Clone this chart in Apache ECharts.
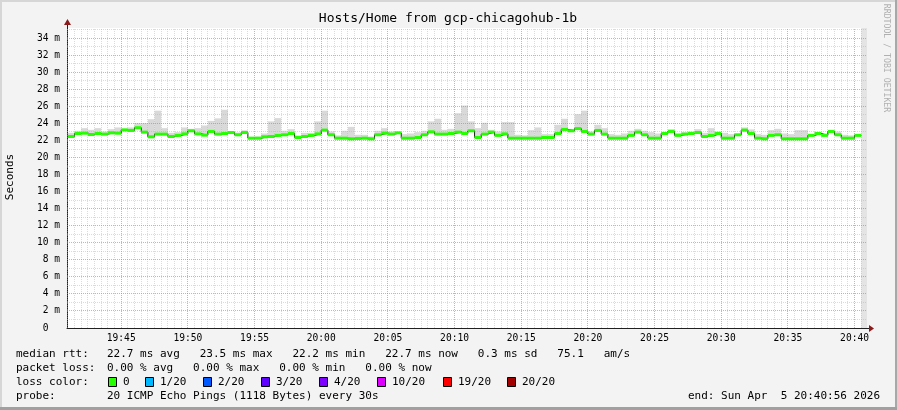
<!DOCTYPE html>
<html>
<head>
<meta charset="utf-8">
<script src="https://cdn.jsdelivr.net/npm/echarts@6/dist/echarts.min.js"></script>
<style>
html,body{margin:0;padding:0;background:#f3f3f3;}
#c{width:897px;height:410px;}
</style>
</head>
<body>
<div id="c"></div>
<script>
// ---- time frame (seconds since midnight) ----
const START = 70856;        // 19:40:56
const END = 74456;          // 20:40:56
const FIRST_STEP = 70860;   // 19:41:00, first 30 s step
const STEP = 30;
const UNKNOWN_FROM = 74430; // 20:40:30, last step without data
const Y_MAX = 35.2;         // ms

// ---- median RTT per 30 s step (ms) ----
const median = [
  22.47,22.82,22.86,22.70,22.82,22.75,22.90,22.86,23.25,23.18,
  23.50,22.98,22.43,22.75,22.75,22.47,22.60,22.78,23.14,22.78,
  22.63,23.06,22.75,22.82,22.94,22.67,22.94,22.27,22.27,22.43,
  22.47,22.60,22.67,22.82,22.35,22.47,22.60,22.78,23.22,22.67,
  22.27,22.27,22.20,22.24,22.27,22.20,22.67,22.86,22.75,22.90,
  22.27,22.27,22.35,22.67,23.02,22.75,22.75,22.82,22.98,22.82,
  23.14,22.35,22.75,22.98,22.60,22.78,22.27,22.27,22.27,22.27,
  22.27,22.35,22.35,22.82,23.30,23.14,23.40,23.06,22.75,23.18,
  22.75,22.27,22.27,22.27,22.60,22.98,22.67,22.27,22.27,22.82,
  23.06,22.60,22.75,22.82,22.94,22.47,22.60,22.82,22.27,22.27,
  22.67,23.22,22.82,22.27,22.20,22.60,22.67,22.20,22.20,22.20,
  22.20,22.60,22.82,22.60,23.06,22.67,22.27,22.27,22.60
];
// ---- top of the smoke (slowest ping) per step (ms) ----
const smokeTop = [
  22.90,23.14,23.45,23.25,23.45,23.06,23.33,23.53,23.37,23.53,
  24.04,24.04,24.50,25.50,23.45,22.90,22.98,23.53,23.37,23.45,
  23.76,24.30,24.60,25.60,22.98,22.94,23.20,22.43,22.47,22.82,
  24.24,24.63,23.14,23.33,22.60,22.90,22.90,24.24,25.50,23.06,
  22.60,23.14,23.60,22.67,22.67,22.47,23.14,23.45,23.06,22.90,
  22.75,22.82,22.98,23.14,24.24,24.55,23.25,23.37,25.20,26.10,
  24.24,23.45,24.08,23.22,23.06,24.16,24.16,22.67,22.60,23.22,
  23.53,22.75,22.75,23.84,24.55,23.37,25.10,25.50,23.06,23.84,
  23.45,22.75,22.67,22.82,23.14,23.37,23.14,22.98,22.82,22.98,
  23.33,22.90,22.98,23.06,23.33,22.90,23.45,23.06,22.90,22.75,
  22.75,23.53,23.30,22.75,22.67,23.22,23.37,22.82,22.75,23.22,
  23.22,22.67,22.98,22.82,23.14,23.06,22.67,22.60,22.75
];

// ---- tick labels ----
const xTickLabels = ['19:45','19:50','19:55','20:00','20:05','20:10','20:15','20:20','20:25','20:30','20:35','20:40'];
const yTickLabels = [0,2,4,6,8,10,12,14,16,18,20,22,24,26,28,30,32,34];

// ---- legend ----
const lossNames  = ['0','1/20','2/20','3/20','4/20','10/20','19/20','20/20'];
const lossColors = ['#26ff00','#00b8ff','#0059ff','#5e00ff','#7e00ff','#dd00ff','#ff0000','#a10000'];

const MONO = '"DejaVu Sans Mono", monospace';
const toSec = s => { const p = s.split(':'); return (+p[0]) * 3600 + (+p[1]) * 60; };
const xTickTimes = xTickLabels.map(toSec);
const fmtTime = v => { const h = Math.floor(v / 3600), m = Math.floor((v % 3600) / 60); return String(h).padStart(2,'0') + ':' + String(m).padStart(2,'0'); };

// series data
const stepData = median.map((v, i) => [FIRST_STEP + STEP * i, v, smokeTop[i]]);
const lineData = median.map((v, i) => [FIRST_STEP + STEP * i, v]);
lineData.push([FIRST_STEP + STEP * median.length, median[median.length - 1]]);

// grid lines: [orientation(0=vertical,1=horizontal), value, major]
const gridData = [];
for (let t = FIRST_STEP; t < END; t += STEP) if (xTickTimes.indexOf(t) < 0) gridData.push([0, t, 0]);
for (let v = 1; v <= 35; v++) if (yTickLabels.indexOf(v) < 0) gridData.push([1, v, 0]);
xTickTimes.forEach(t => gridData.push([0, t, 1]));
yTickLabels.forEach(v => { if (v > 0) gridData.push([1, v, 1]); });

const chart = echarts.init(document.getElementById('c'), null, {renderer: 'canvas'});

const crisp = v => Math.round(v - 0.5) + 0.5;

const option = {
  animation: false,
  backgroundColor: '#f3f3f3',
  grid: {left: 67, right: 30, top: 28, bottom: 82, show: true, backgroundColor: '#ffffff', borderWidth: 0},
  xAxis: {
    type: 'value', min: START, max: END,
    axisLine: {show: true, lineStyle: {color: '#202020', width: 1}},
    axisTick: {show: false},
    splitLine: {show: false},
    axisLabel: {
      customValues: xTickTimes, formatter: v => fmtTime(v),
      color: '#000', fontFamily: MONO, fontSize: 9.6, margin: 5,
      showMinLabel: true, showMaxLabel: true
    }
  },
  yAxis: {
    type: 'value', min: 0, max: Y_MAX,
    axisLine: {show: true, lineStyle: {color: '#202020', width: 1}},
    axisTick: {show: false},
    splitLine: {show: false},
    axisLabel: {
      customValues: yTickLabels, formatter: v => (v === 0 ? '0  ' : v + ' m'),
      color: '#000', fontFamily: MONO, fontSize: 9.6, margin: 7
    }
  },
  series: [
    { // step without data at the right end
      type: 'custom', name: 'unknown', silent: true, z: 1,
      data: [[UNKNOWN_FROM, END]],
      renderItem: (params, api) => {
        const a = api.coord([api.value(0), Y_MAX]);
        const b = api.coord([api.value(1), 0]);
        return {type: 'rect', shape: {x: a[0], y: a[1], width: b[0] - a[0], height: b[1] - a[1]}, style: {fill: '#e4e4e4'}};
      }
    },
    { // smoke
      type: 'custom', name: 'smoke', silent: true, z: 2,
      data: stepData,
      renderItem: (params, api) => {
        const t = api.value(0);
        const a = api.coord([t, api.value(2)]);
        const b = api.coord([t + STEP, api.value(1)]);
        return {type: 'rect', shape: {x: a[0], y: a[1], width: b[0] - a[0], height: b[1] - a[1]}, style: {fill: '#d9d9d9'}};
      }
    },
    { // grid
      type: 'custom', name: 'grid', silent: true, z: 3,
      data: gridData,
      renderItem: (params, api) => {
        const o = api.value(0), v = api.value(1), major = api.value(2);
        let a, b;
        if (o === 0) { a = api.coord([v, 0]); b = api.coord([v, Y_MAX]); a[0] = b[0] = crisp(a[0]); }
        else { a = api.coord([START, v]); b = api.coord([END, v]); a[1] = b[1] = crisp(a[1]); }
        return {type: 'line', shape: {x1: a[0], y1: a[1], x2: b[0], y2: b[1]},
          style: {stroke: major ? 'rgba(255,90,90,0.6)' : 'rgba(175,175,175,0.45)', lineWidth: 1, lineDash: [1, 1]}};
      }
    },
    { // median line
      type: 'line', name: 'median', step: 'end', data: lineData, z: 4,
      showSymbol: false, silent: true,
      lineStyle: {color: '#202020', width: 1}
    },
    { // loss-coloured median band
      type: 'custom', name: 'median band', silent: true, z: 6,
      data: stepData,
      renderItem: (params, api) => {
        const t = api.value(0);
        const a = api.coord([t, api.value(1)]);
        const b = api.coord([t + STEP, api.value(1)]);
        return {type: 'rect', shape: {x: a[0], y: a[1] - 1.5, width: b[0] - a[0], height: 3}, style: {fill: lossColors[0]}};
      }
    }
  ],
  graphic: []
};

const G = option.graphic;
const txt = (x, y, text, extra) => {
  const st = Object.assign({text: text, font: '11px ' + MONO, fill: '#000',
    align: 'left', verticalAlign: 'middle', textAlign: 'left', textVerticalAlign: 'middle'}, (extra && extra.style) || {});
  const el = {type: 'text', x: x, y: y, silent: true, style: st, z: 100};
  if (extra && extra.rotation) el.rotation = extra.rotation;
  G.push(el);
};
// frame
G.push({type: 'rect', shape: {x: 0, y: 0, width: 897, height: 2}, style: {fill: '#d6d6d6'}, silent: true});
G.push({type: 'rect', shape: {x: 0, y: 0, width: 2, height: 410}, style: {fill: '#d6d6d6'}, silent: true});
G.push({type: 'rect', shape: {x: 895, y: 0, width: 2, height: 410}, style: {fill: '#a8a8a8'}, silent: true});
G.push({type: 'rect', shape: {x: 0, y: 407, width: 897, height: 3}, style: {fill: '#a0a0a0'}, silent: true});
// axis extensions and arrows
G.push({type: 'line', shape: {x1: 867, y1: 328.5, x2: 870, y2: 328.5}, style: {stroke: '#202020', lineWidth: 1}, silent: true});
G.push({type: 'line', shape: {x1: 67.5, y1: 28, x2: 67.5, y2: 24}, style: {stroke: '#202020', lineWidth: 1}, silent: true});
G.push({type: 'polygon', shape: {points: [[869, 325], [874, 328.5], [869, 332]]}, style: {fill: '#8b1a1a'}, silent: true});
G.push({type: 'polygon', shape: {points: [[64, 25], [67.5, 19], [71, 25]]}, style: {fill: '#8b1a1a'}, silent: true});
// title
txt(448, 19, 'Hosts/Home from gcp-chicagohub-1b', {style: {font: '13px ' + MONO, align: 'center', textAlign: 'center'}});
// y axis name
txt(10, 177, 'Seconds', {rotation: Math.PI / 2, style: {align: 'center', textAlign: 'center'}});
// watermark
txt(886, 58, 'RRDTOOL / TOBI OETIKER', {rotation: -Math.PI / 2, style: {font: '8.2px ' + MONO, fill: '#b0b0b0', align: 'center', textAlign: 'center'}});
// legend lines
txt(16, 354, 'median rtt:');
txt(107, 354, '22.7 ms avg   23.5 ms max   22.2 ms min   22.7 ms now   0.3 ms sd   75.1   am/s');
txt(16, 368, 'packet loss:');
txt(107, 368, '0.00 % avg   0.00 % max   0.00 % min   0.00 % now');
txt(16, 382, 'loss color:');
const boxX = [108, 145, 203, 261, 319, 377, 443, 507];
lossNames.forEach((n, i) => {
  G.push({type: 'rect', shape: {x: boxX[i] + 0.5, y: 377.5, width: 8, height: 9}, style: {fill: lossColors[i], stroke: '#000', lineWidth: 1}, silent: true, z: 100});
  txt(boxX[i] + 15, 382, n);
});
txt(16, 396, 'probe:');
txt(107, 396, '20 ICMP Echo Pings (1118 Bytes) every 30s');
txt(880, 396, 'end: Sun Apr  5 20:40:56 2026', {style: {align: 'right', textAlign: 'right'}});

chart.setOption(option);
</script>
</body>
</html>
